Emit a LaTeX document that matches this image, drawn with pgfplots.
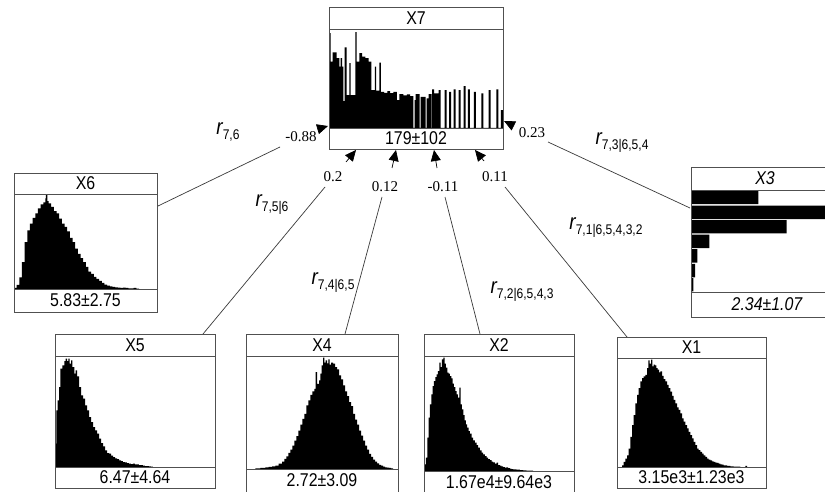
\documentclass[border=0pt]{standalone}
\usepackage{pgfplots}
\pgfplotsset{compat=1.18}
\usetikzlibrary{arrows.meta}
\usepackage{fontspec}
\setmainfont{Liberation Serif}
\newfontfamily\sansn[FakeStretch=0.86]{Liberation Sans}
\definecolor{boxc}{HTML}{505050}
\definecolor{edgec}{HTML}{3A3A3A}
\newcommand\boxlbl{\sansn\fontsize{18.5}{20}\selectfont}
\newcommand\numlbl{\fontsize{15}{17}\selectfont}
\newcommand\rlab[1]{{\sansn\fontsize{22}{24}\selectfont\itshape r}\raisebox{-5pt}{\sansn\fontsize{14}{15}\selectfont #1}}
\pgfplotsset{hist/.style={hide axis, scale only axis, anchor=south west, clip=true, ymin=0}}
\tikzset{bx/.style={draw=boxc, line width=0.9pt}, ed/.style={draw=edgec, line width=0.7pt},
 ar/.style={draw=black, line width=0.7pt, -{Triangle[length=11pt,width=10pt,fill=black]}}}
\begin{document}
\begin{tikzpicture}[x=1pt,y=1pt]
\path[use as bounding box] (0,0) rectangle (825,491);
\clip (0,0) rectangle (825,491);
\fill[white] (0,0) rectangle (825,491);

% ---------- X7 ----------
\begin{axis}[hist, at={(329pt,363pt)}, width=174pt, height=99pt, xmin=57, xmax=578, ymax=295]
\addplot[fill=black, draw=none, const plot] coordinates {
(57,283) (62,198) (68,225) (80,208) (88,183) (92,208) (96,183) (100,80) (104,240) (110,98)
(118,193) (122,98) (136,286) (140,198) (148,223) (156,213) (166,208) (176,198) (184,113)
(194,183) (198,111) (208,195) (212,108) (222,105) (232,110) (240,104) (250,108) (260,83)
(268,101) (280,97) (290,100) (300,95) (310,0) (313,83) (316,101) (328,0) (331,93) (346,0)
(349,88) (355,101) (364,0) (366,115) (372,103) (385,113) (391,0) (403,113) (409,0) (417,108)
(423,0) (430,115) (436,0) (445,113) (451,0) (460,125) (466,0) (473,115) (479,0) (491,108)
(497,0) (513,103) (519,0) (535,113) (541,0) (558,115) (564,0) (572,53) (578,53)} \closedcycle;
\end{axis}
\draw[bx] (329,342) rectangle (503,484);
\draw[bx] (329,462)--(503,462) (329,363)--(503,363);
\node[font=\boxlbl] at (416,473) {X7};
\node[font=\boxlbl] at (416,352.5) {179±102};

% ---------- X6 ----------
\begin{axis}[hist, at={(14pt,202pt)}, width=143pt, height=95pt, xmin=42, xmax=472, ymax=283]
\addplot[fill=black, draw=none, const plot] coordinates {
(42,3) (50,12) (58,35) (66,80) (74,140) (82,175) (90,195) (98,212) (106,225) (114,240)
(122,252) (130,258) (136,270) (138,280) (142,262) (146,255) (154,245) (162,232) (170,225)
(178,210) (186,195) (194,185) (202,172) (210,152) (218,140) (226,120) (234,105) (242,92)
(250,80) (258,66) (266,52) (274,45) (282,36) (290,30) (298,24) (306,18) (314,13) (322,10)
(330,8) (338,6) (346,5) (354,4) (362,3) (370,4) (378,3) (386,2) (394,2) (402,3) (410,1)
(418,0) (472,0)} \closedcycle;
\end{axis}
\draw[bx] (14,179) rectangle (157,318);
\draw[bx] (14,297)--(157,297) (14,202)--(157,202);
\node[font=\boxlbl] at (85.5,307.5) {X6};
\node[font=\boxlbl] at (85.5,190.5) {5.83±2.75};

% ---------- X3 ----------
\begin{axis}[hist, at={(691pt,199pt)}, width=152pt, height=102pt, xmin=0, xmax=456,
  ymin=90, ymax=395, y dir=reverse]
\addplot[xbar, bar width=40, fill=black, draw=none] coordinates {
(202,112) (440,157) (287,200) (55,243.5) (19,287) (12,331) (7,373.5)};
\end{axis}
\draw[bx] (691,174) rectangle (843,324);
\draw[bx] (691,301)--(843,301) (691,199)--(843,199);
\node[font=\boxlbl\itshape] at (765,312.5) {X3};
\node[font=\boxlbl\itshape] at (767,186.5) {2.34±1.07};

% ---------- X5 ----------
\begin{axis}[hist, at={(55pt,24pt)}, width=160pt, height=111pt, xmin=105, xmax=585, ymax=333]
\addplot[fill=black, draw=none, const plot] coordinates {
(105,70) (109,170) (113,200) (117,240) (121,295) (127,305) (133,318) (137,325) (141,318)
(145,325) (149,310) (153,320) (157,300) (163,280) (167,290) (171,272) (177,240) (183,215)
(189,205) (195,185) (201,170) (207,150) (213,135) (219,120) (225,110) (231,100) (237,85)
(243,72) (249,62) (255,50) (261,42) (267,40) (273,34) (279,30) (285,26) (291,24) (297,20)
(303,18) (309,15) (315,14) (321,12) (327,10) (333,9) (339,10) (345,8) (351,8) (357,6)
(363,6) (369,4) (375,3) (381,3) (387,2) (393,1) (399,0) (585,0)} \closedcycle;
\end{axis}
\draw[bx] (55,3) rectangle (215,157);
\draw[bx] (55,135)--(215,135) (55,24)--(215,24);
\node[font=\boxlbl] at (135,146) {X5};
\node[font=\boxlbl] at (135,13.5) {6.47±4.64};

% ---------- X4 ----------
\begin{axis}[hist, at={(246pt,22pt)}, width=152pt, height=113pt, xmin=17, xmax=473, ymax=338]
\addplot[fill=black, draw=none, const plot] coordinates {
(17,0) (45,2) (60,3) (75,5) (85,6) (95,8) (105,10) (115,16) (125,22) (132,30) (138,38)
(144,48) (150,58) (156,70) (162,85) (168,98) (174,115) (180,133) (186,150) (192,165)
(198,190) (204,205) (210,222) (216,232) (222,240) (226,290) (230,255) (236,265) (240,285)
(244,310) (248,333) (252,318) (256,325) (260,316) (264,328) (268,312) (272,318) (278,315)
(284,305) (290,298) (296,280) (302,268) (308,250) (314,232) (320,218) (326,200) (332,188)
(338,165) (344,148) (350,133) (356,115) (362,100) (368,85) (374,70) (380,58) (386,45)
(392,36) (398,28) (404,22) (410,17) (416,12) (422,10) (428,7) (434,5) (440,4) (446,3)
(452,2) (458,0) (473,0)} \closedcycle;
\end{axis}
\draw[bx] (246,-2) rectangle (398,157);
\draw[bx] (246,135)--(398,135) (246,22)--(398,22);
\node[font=\boxlbl] at (322,146) {X4};
\node[font=\boxlbl] at (322,11) {2.72±3.09};

% ---------- X2 ----------
\begin{axis}[hist, at={(424pt,20pt)}, width=150pt, height=115pt, xmin=12, xmax=463, ymax=345]
\addplot[fill=black, draw=none, const plot] coordinates {
(12,0) (14,20) (18,40) (22,100) (26,160) (30,200) (34,230) (38,255) (42,270) (46,282)
(50,290) (54,300) (58,325) (62,312) (66,335) (70,340) (74,322) (78,310) (82,295) (86,292)
(90,285) (94,278) (98,262) (102,252) (106,240) (110,230) (114,220) (118,250) (122,200)
(126,185) (130,168) (134,152) (138,140) (142,130) (146,120) (150,112) (155,100) (160,92)
(165,85) (170,78) (175,70) (180,62) (185,55) (190,50) (195,45) (200,40) (205,36) (210,33)
(215,28) (220,26) (225,22) (230,25) (235,18) (240,16) (245,14) (250,12) (255,10) (260,11)
(265,9) (270,7) (275,6) (280,5) (290,4) (300,3) (310,2) (320,1) (340,0) (463,0)} \closedcycle;
\end{axis}
\draw[bx] (424,-4) rectangle (574,157);
\draw[bx] (424,135)--(574,135) (424,20)--(574,20);
\node[font=\boxlbl] at (499,146) {X2};
\node[font=\boxlbl] at (499,9) {1.67e4±9.64e3};

% ---------- X1 ----------
\begin{axis}[hist, at={(617pt,24pt)}, width=149pt, height=109pt, xmin=20, xmax=467, ymax=325]
\addplot[fill=black, draw=none, const plot] coordinates {
(20,0) (35,5) (40,15) (45,25) (50,35) (55,55) (60,90) (65,125) (70,155) (75,190) (80,215)
(85,235) (90,255) (95,265) (100,270) (105,275) (110,295) (114,318) (118,308) (122,320)
(126,300) (130,305) (134,303) (138,295) (142,290) (146,282) (150,285) (155,272) (160,262)
(165,255) (170,245) (175,235) (180,225) (185,212) (190,200) (195,190) (200,178) (205,170)
(210,160) (215,145) (220,135) (225,125) (230,115) (235,105) (240,95) (245,85) (250,75)
(255,65) (260,55) (265,50) (270,45) (275,40) (280,35) (285,30) (290,25) (295,22) (300,20)
(305,17) (310,15) (315,13) (320,12) (325,10) (330,8) (335,7) (340,5) (350,3) (360,2)
(370,1) (390,0) (405,3) (410,0) (467,0)} \closedcycle;
\end{axis}
\draw[bx] (617,3) rectangle (766,154);
\draw[bx] (617,133)--(766,133) (617,24)--(766,24);
\node[font=\boxlbl] at (691.5,143.5) {X1};
\node[font=\boxlbl] at (691.5,13.5) {3.15e3±1.23e3};

% ---------- edges ----------
\draw[ed] (158,285)--(280,344);
\draw[ed] (203,157)--(325,304);
\draw[ed] (345,157)--(382,294);
\draw[ed] (480,157)--(445,294);
\draw[ed] (627,154)--(505,304);
\draw[ed] (690,283)--(548,349);

\draw[ar] (318,362)--(328,365);
\draw[ar] (514,365)--(504,370);
\draw[ar] (346,329)--(356,341);
\draw[ar] (392,323)--(396,341);
\draw[ar] (437,323)--(434,341);
\draw[ar] (484,330)--(475,341);

\node[font=\numlbl] at (301,354) {-0.88};
\node[font=\numlbl] at (532,358) {0.23};
\node[font=\numlbl] at (333,314) {0.2};
\node[font=\numlbl] at (385,304) {0.12};
\node[font=\numlbl] at (443,304) {-0.11};
\node[font=\numlbl] at (495,314) {0.11};

\node at (228,359) {\rlab{7,6}};
\node at (272,286) {\rlab{7,5|6}};
\node at (333,208) {\rlab{7,4|6,5}};
\node at (522,199) {\rlab{7,2|6,5,4,3}};
\node at (606,263) {\rlab{7,1|6,5,4,3,2}};
\node at (622,348) {\rlab{7,3|6,5,4}};
\end{tikzpicture}
\end{document}
